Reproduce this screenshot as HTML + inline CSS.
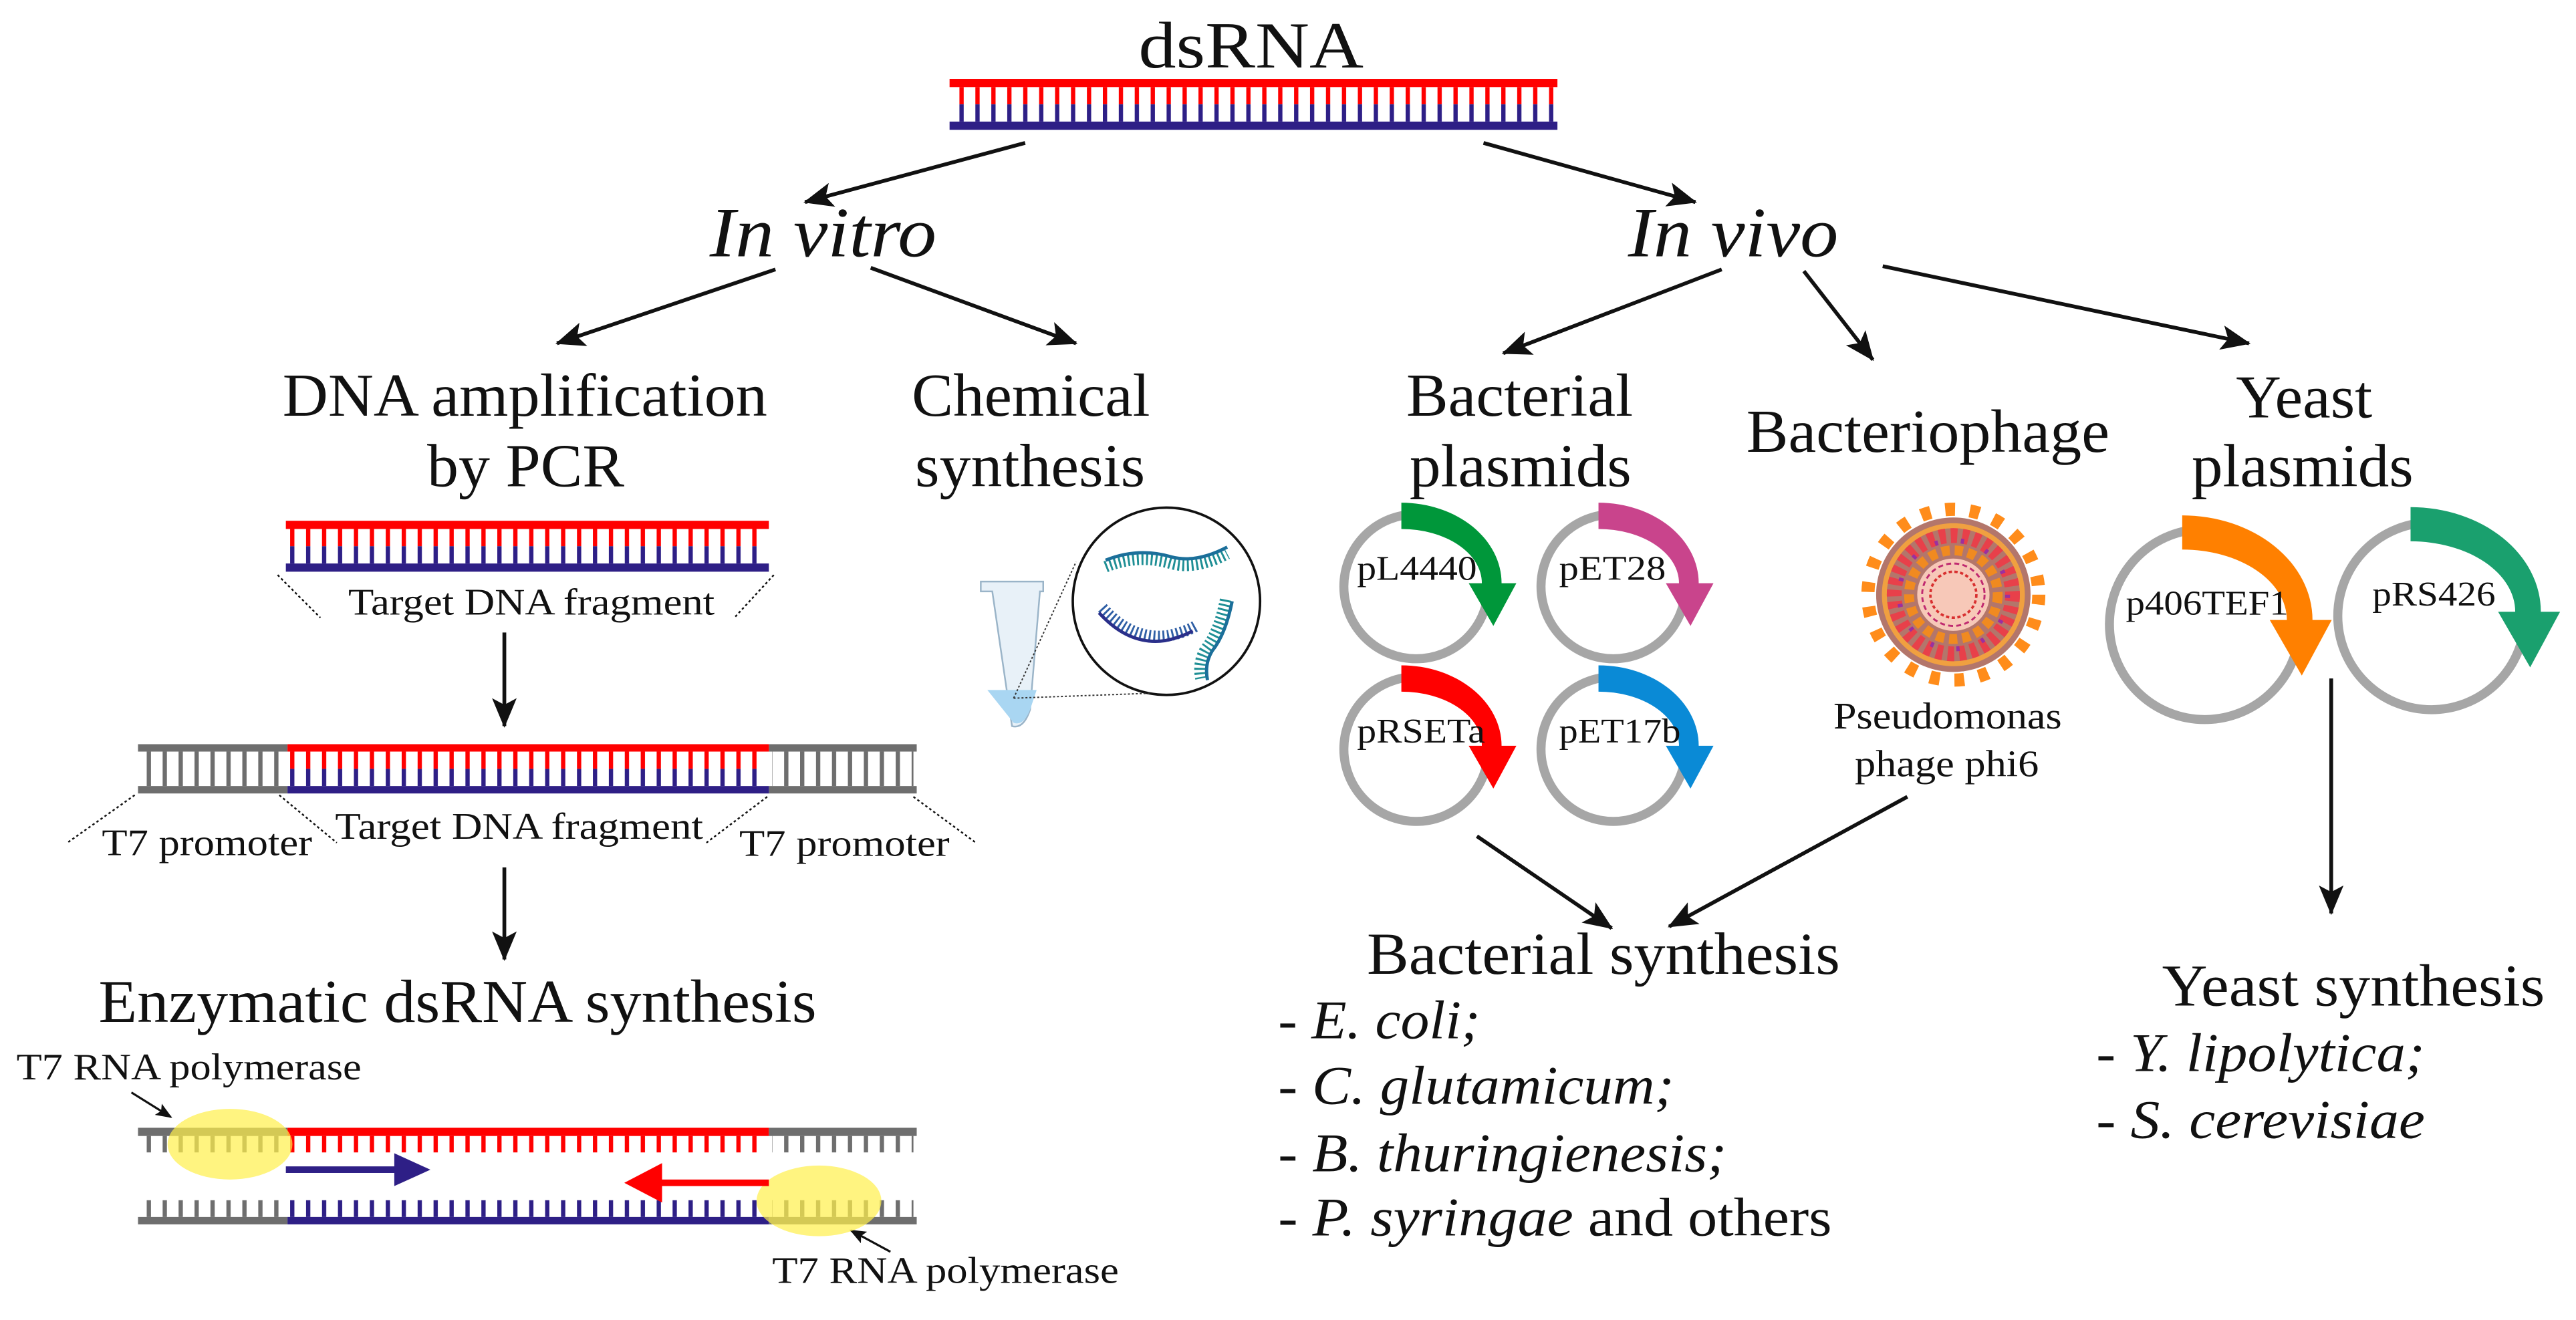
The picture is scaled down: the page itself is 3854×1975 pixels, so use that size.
<!DOCTYPE html>
<html><head><meta charset="utf-8"><style>
html,body{margin:0;padding:0;background:#fff}
svg{display:block}
text,tspan{font-family:"Liberation Serif","Times New Roman",serif;fill:#111}
</style></head><body>
<svg width="3854" height="1975" viewBox="0 0 1568 803.5" xmlns="http://www.w3.org/2000/svg" font-family="Liberation Serif, serif">
<defs>
<marker id="ah" markerWidth="10" markerHeight="8" refX="9" refY="4" orient="auto" markerUnits="userSpaceOnUse" viewBox="0 0 10 8">
<path d="M0,0 L10,4 L0,8 L2,4 Z" fill="#111"/></marker>
<marker id="ahb" markerWidth="18" markerHeight="15" refX="17" refY="7.5" orient="auto" markerUnits="userSpaceOnUse" viewBox="0 0 18 15">
<path d="M0,0 L18,7.5 L0,15 L4,7.5 Z" fill="#111"/></marker>
<pattern id="pr" width="9.7" height="100" patternUnits="userSpaceOnUse" x="2"><rect x="0" y="0" width="2.6" height="100" fill="#f00"/></pattern>
<pattern id="pb" width="9.7" height="100" patternUnits="userSpaceOnUse" x="2"><rect x="0" y="0" width="2.6" height="100" fill="#2e1f86"/></pattern>
<pattern id="pg" width="9.7" height="100" patternUnits="userSpaceOnUse" x="2"><rect x="0" y="0" width="2.6" height="100" fill="#6e6e6e"/></pattern>
</defs>

<text x="693" y="41" font-size="40" textLength="137" lengthAdjust="spacingAndGlyphs">dsRNA</text>
<rect x="578" y="48" width="370" height="5" fill="#f00"/>
<rect x="580" y="53" width="366" height="10.5" fill="url(#pr)"/>
<rect x="580" y="63.5" width="366" height="10.5" fill="url(#pb)"/>
<rect x="578" y="74" width="370" height="5" fill="#2e1f86"/>

<g stroke="#111" stroke-width="2.3" fill="none">
<line x1="624" y1="87" x2="490" y2="123" marker-end="url(#ahb)"/>
<line x1="903" y1="87" x2="1032" y2="123" marker-end="url(#ahb)"/>
<line x1="472" y1="164" x2="339" y2="209" marker-end="url(#ahb)"/>
<line x1="530" y1="163" x2="655" y2="209" marker-end="url(#ahb)"/>
<line x1="1048" y1="164" x2="915" y2="215" marker-end="url(#ahb)"/>
<line x1="1098" y1="165" x2="1140" y2="219" marker-end="url(#ahb)"/>
<line x1="1146" y1="162" x2="1369" y2="209" marker-end="url(#ahb)"/>
<line x1="307" y1="385" x2="307" y2="442" marker-end="url(#ahb)"/>
<line x1="307" y1="528" x2="307" y2="584" marker-end="url(#ahb)"/>
<line x1="899" y1="509" x2="981" y2="565" marker-end="url(#ahb)"/>
<line x1="1161" y1="485" x2="1016" y2="564" marker-end="url(#ahb)"/>
<line x1="1419" y1="413" x2="1419" y2="556" marker-end="url(#ahb)"/>
</g>

<text x="432" y="156" font-size="43" font-style="italic" textLength="138" lengthAdjust="spacingAndGlyphs">In vitro</text>
<text x="991" y="156" font-size="43" font-style="italic" textLength="128" lengthAdjust="spacingAndGlyphs">In vivo</text>

<text x="172" y="253" font-size="37" textLength="295" lengthAdjust="spacingAndGlyphs">DNA amplification</text>
<text x="260" y="296" font-size="37" textLength="120" lengthAdjust="spacingAndGlyphs">by PCR</text>
<text x="555" y="253" font-size="37" textLength="145" lengthAdjust="spacingAndGlyphs">Chemical</text>
<text x="557" y="296" font-size="37" textLength="140" lengthAdjust="spacingAndGlyphs">synthesis</text>

<rect x="174" y="317" width="294" height="5" fill="#f00"/>
<rect x="176" y="322" width="290" height="10.5" fill="url(#pr)"/>
<rect x="176" y="332.5" width="290" height="10.5" fill="url(#pb)"/>
<rect x="174" y="343" width="294" height="5" fill="#2e1f86"/>
<g stroke="#111" stroke-width="1" stroke-dasharray="1.5,1.5" fill="none">
<line x1="169" y1="350" x2="195" y2="376"/><line x1="471" y1="350" x2="447" y2="376"/>
<line x1="82" y1="484" x2="41" y2="513"/><line x1="170" y1="484" x2="205" y2="513"/>
<line x1="467" y1="485" x2="430" y2="513"/><line x1="556" y1="485" x2="594" y2="513"/>
</g>
<text x="212" y="374" font-size="23" textLength="223" lengthAdjust="spacingAndGlyphs">Target DNA fragment</text>

<rect x="84" y="453" width="91" height="4.5" fill="#6e6e6e"/>
<rect x="468" y="453" width="90" height="4.5" fill="#6e6e6e"/>
<rect x="175" y="453" width="293" height="4.5" fill="#f00"/>
<rect x="86" y="457.5" width="89" height="21" fill="url(#pg)"/>
<rect x="470" y="457.5" width="86" height="21" fill="url(#pg)"/>
<rect x="176" y="457.5" width="290" height="10.5" fill="url(#pr)"/>
<rect x="176" y="468" width="290" height="10.5" fill="url(#pb)"/>
<rect x="84" y="478.5" width="91" height="4.5" fill="#6e6e6e"/>
<rect x="468" y="478.5" width="90" height="4.5" fill="#6e6e6e"/>
<rect x="175" y="478.5" width="293" height="4.5" fill="#2e1f86"/>
<text x="62" y="520.6" font-size="23" textLength="128" lengthAdjust="spacingAndGlyphs">T7 promoter</text>
<text x="204" y="510.5" font-size="23" textLength="224" lengthAdjust="spacingAndGlyphs">Target DNA fragment</text>
<text x="450" y="521" font-size="23" textLength="128" lengthAdjust="spacingAndGlyphs">T7 promoter</text>

<text x="60" y="622" font-size="37" textLength="437" lengthAdjust="spacingAndGlyphs">Enzymatic dsRNA synthesis</text>
<text x="10" y="657" font-size="23" textLength="210" lengthAdjust="spacingAndGlyphs">T7 RNA polymerase</text>
<text x="470" y="781" font-size="23" textLength="211" lengthAdjust="spacingAndGlyphs">T7 RNA polymerase</text>
<g stroke="#111" stroke-width="1.3" fill="none">
<line x1="80" y1="665" x2="104" y2="680" marker-end="url(#ah)"/>
<line x1="542" y1="762" x2="518" y2="749" marker-end="url(#ah)"/>
</g>

<rect x="84" y="686.5" width="91" height="5" fill="#6e6e6e"/>
<rect x="175" y="686.5" width="293" height="5" fill="#f00"/>
<rect x="468" y="686.5" width="90" height="5" fill="#6e6e6e"/>
<rect x="86" y="691.5" width="89" height="10" fill="url(#pg)"/>
<rect x="176" y="691.5" width="290" height="10" fill="url(#pr)"/>
<rect x="470" y="691.5" width="86" height="10" fill="url(#pg)"/>
<rect x="86" y="730.6" width="89" height="10.2" fill="url(#pg)"/>
<rect x="176" y="730.6" width="290" height="10.2" fill="url(#pb)"/>
<rect x="470" y="730.6" width="86" height="10.2" fill="url(#pg)"/>
<rect x="84" y="740.8" width="91" height="4.5" fill="#6e6e6e"/>
<rect x="175" y="740.8" width="293" height="4.5" fill="#2e1f86"/>
<rect x="468" y="740.8" width="90" height="4.5" fill="#6e6e6e"/>
<ellipse cx="140" cy="696.5" rx="38" ry="21.5" fill="#fff04a" fill-opacity="0.7"/>
<ellipse cx="498.5" cy="731" rx="38" ry="21.5" fill="#fff04a" fill-opacity="0.7"/>
<rect x="174" y="710" width="70" height="4" fill="#2e1f86"/>
<path d="M240,702 L262,712 L240,722 Z" fill="#2e1f86"/>
<rect x="400" y="718" width="68" height="4" fill="#f00"/>
<path d="M403,708 L380,720 L403,732 Z" fill="#f00"/>

<g>
<circle cx="710" cy="366" r="57" fill="#fff" stroke="#111" stroke-width="1.5"/>
<path d="M597,354 h38 v6 h-2 l-6,72 q-4,12 -11,10 l-12,-82 h-7 z" fill="#e8f1f8" stroke="#9ab4c8" stroke-width="1"/>
<path d="M601,420 l30,0 l-4,12 q-4,10 -10,8 z" fill="#a9d6f2"/>
<g stroke="#333" stroke-width="0.8" stroke-dasharray="1.2,1.2" fill="none">
<line x1="617" y1="425" x2="655" y2="342"/><line x1="617" y1="425" x2="700" y2="422"/>
</g>
<g fill="none" stroke-width="7" stroke-dasharray="1.2,1.6">
<path d="M673,345 q20,-8 40,-2 q15,4 34,-6" stroke="#1f8f95"/>
<path d="M671,370 q18,20 40,17 q10,-2 17,-6" stroke="#2f5fa5"/>
<path d="M746,365 q-4,20 -12,30 q-5,8 -3,18" stroke="#1f8f95"/>
</g>
<g fill="none" stroke-width="2">
<path d="M673,341 q20,-8 40,-2 q15,4 34,-6" stroke="#1b6f9a"/>
<path d="M669,373 q18,20 40,17 q10,-2 17,-6" stroke="#2a2f8a"/>
<path d="M750,366 q-4,20 -12,30 q-5,8 -3,18" stroke="#1b6f9a"/>
</g>
</g>

<text x="856" y="253" font-size="37" textLength="138" lengthAdjust="spacingAndGlyphs">Bacterial</text>
<text x="858" y="296" font-size="37" textLength="135" lengthAdjust="spacingAndGlyphs">plasmids</text>
<text x="1063" y="275" font-size="37" textLength="221" lengthAdjust="spacingAndGlyphs">Bacteriophage</text>
<text x="1361" y="254" font-size="37" textLength="83" lengthAdjust="spacingAndGlyphs">Yeast</text>
<text x="1334" y="296" font-size="37" textLength="135" lengthAdjust="spacingAndGlyphs">plasmids</text>

<g fill="none" stroke="#a6a6a6" stroke-width="5.5">
<circle cx="862" cy="357" r="44"/><circle cx="982" cy="357" r="44"/>
<circle cx="862" cy="456" r="44"/><circle cx="982" cy="456" r="44"/>
<circle cx="1342" cy="380" r="58"/><circle cx="1480" cy="375" r="57"/>
</g>
<g transform="translate(862,357)"><path d="M-9,-51 A61 49 0 0 1 52,-2 L61,-2 L47,24 L32,-2 L40,-2 A49 33 0 0 0 -9,-35 Z" fill="#00973a"/></g>
<g transform="translate(982,357)"><path d="M-9,-51 A61 49 0 0 1 52,-2 L61,-2 L47,24 L32,-2 L40,-2 A49 33 0 0 0 -9,-35 Z" fill="#c9448c"/></g>
<g transform="translate(862,456)"><path d="M-9,-51 A61 49 0 0 1 52,-2 L61,-2 L47,24 L32,-2 L40,-2 A49 33 0 0 0 -9,-35 Z" fill="#f00"/></g>
<g transform="translate(982,456)"><path d="M-9,-51 A61 49 0 0 1 52,-2 L61,-2 L47,24 L32,-2 L40,-2 A49 33 0 0 0 -9,-35 Z" fill="#0a8ad6"/></g>
<g transform="translate(1340,380) scale(1.3)"><path d="M-9,-51 A61 49 0 0 1 52,-2 L61,-2 L47,24 L32,-2 L40,-2 A49 33 0 0 0 -9,-35 Z" fill="#ff8000"/></g>
<g transform="translate(1479,375) scale(1.3)"><path d="M-9,-51 A61 49 0 0 1 52,-2 L61,-2 L47,24 L32,-2 L40,-2 A49 33 0 0 0 -9,-35 Z" fill="#1aa06e"/></g>
<text x="826" y="353" font-size="21" textLength="73" lengthAdjust="spacingAndGlyphs">pL4440</text>
<text x="949" y="353" font-size="21" textLength="65" lengthAdjust="spacingAndGlyphs">pET28</text>
<text x="826" y="452" font-size="21" textLength="78" lengthAdjust="spacingAndGlyphs">pRSETa</text>
<text x="949" y="452" font-size="21" textLength="74" lengthAdjust="spacingAndGlyphs">pET17b</text>
<text x="1294" y="374" font-size="21" textLength="99" lengthAdjust="spacingAndGlyphs">p406TEF1</text>
<text x="1444" y="368.5" font-size="21" textLength="75" lengthAdjust="spacingAndGlyphs">pRS426</text>

<g transform="translate(1189,362)">
<circle r="52" fill="none" stroke="#ff8c1a" stroke-width="8" stroke-dasharray="6,9"/>
<circle r="47" fill="#b3766b"/>
<circle r="42" fill="none" stroke="#f0a040" stroke-width="3"/>
<circle r="36" fill="none" stroke="#e8404a" stroke-width="9" stroke-dasharray="4,3"/>
<circle r="27" fill="none" stroke="#f08a20" stroke-width="6" stroke-dasharray="5,3"/>
<circle r="22" fill="#f7c8b8"/>
<circle r="14" fill="none" stroke="#d83030" stroke-width="1.5" stroke-dasharray="2,1.5"/>
<circle r="19" fill="none" stroke="#c02a70" stroke-width="1.2" stroke-dasharray="3,2"/>
<circle r="33" fill="none" stroke="#9b2fa0" stroke-width="3" stroke-dasharray="2,14"/>
</g>
<text x="1116" y="443.5" font-size="23" textLength="139" lengthAdjust="spacingAndGlyphs">Pseudomonas</text>
<text x="1129" y="472.6" font-size="23" textLength="112" lengthAdjust="spacingAndGlyphs">phage phi6</text>

<text x="832" y="592.8" font-size="36" textLength="288" lengthAdjust="spacingAndGlyphs">Bacterial synthesis</text>
<text x="778" y="632" font-size="33" textLength="123" lengthAdjust="spacingAndGlyphs">- <tspan font-style="italic" font-family="Liberation Serif, serif">E. coli;</tspan></text>
<text x="778" y="672" font-size="33" textLength="241" lengthAdjust="spacingAndGlyphs">- <tspan font-style="italic" font-family="Liberation Serif, serif">C. glutamicum;</tspan></text>
<text x="778" y="713" font-size="33" textLength="273" lengthAdjust="spacingAndGlyphs">- <tspan font-style="italic" font-family="Liberation Serif, serif">B. thuringienesis;</tspan></text>
<text x="778" y="752" font-size="33" textLength="337" lengthAdjust="spacingAndGlyphs">- <tspan font-style="italic" font-family="Liberation Serif, serif">P. syringae</tspan> and others</text>
<text x="1316" y="612" font-size="36" textLength="233" lengthAdjust="spacingAndGlyphs">Yeast synthesis</text>
<text x="1276" y="652" font-size="33" textLength="200" lengthAdjust="spacingAndGlyphs">- <tspan font-style="italic" font-family="Liberation Serif, serif">Y. lipolytica;</tspan></text>
<text x="1276" y="692.6" font-size="33" textLength="200" lengthAdjust="spacingAndGlyphs">- <tspan font-style="italic" font-family="Liberation Serif, serif">S. cerevisiae</tspan></text>
</svg>
</body></html>
